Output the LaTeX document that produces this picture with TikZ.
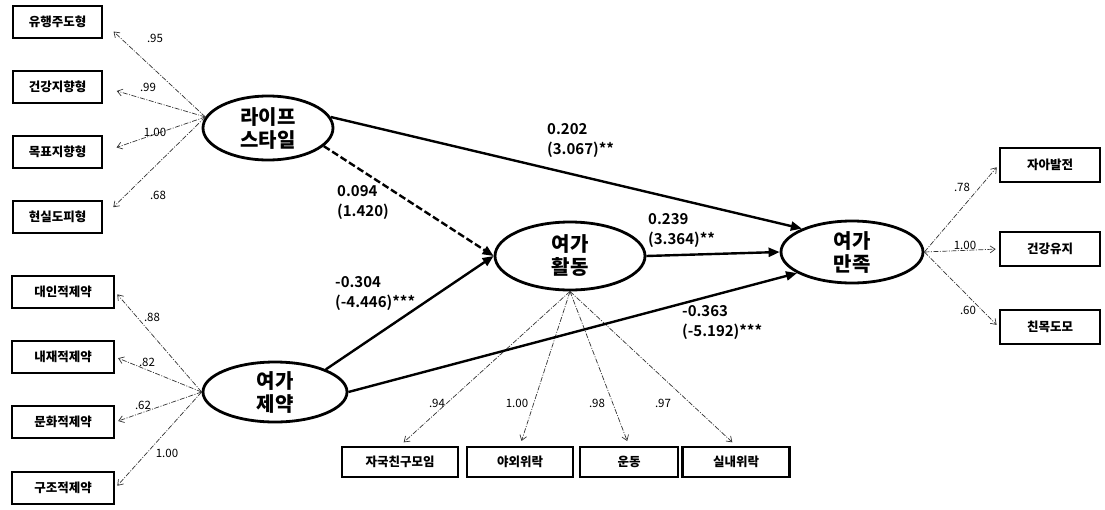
\documentclass[tikz,border=0pt]{standalone}
\usepackage{fontspec}
\setmainfont{Noto Sans CJK KR}[BoldFont={Noto Sans CJK KR Bold}]
\newfontfamily\krblack{Noto Sans CJK KR Black}
\usetikzlibrary{shapes.geometric, arrows.meta}
\tikzset{
  ind/.style={draw, line width=2.6pt, font=\krblack\fontsize{12.5}{14}\selectfont, minimum height=32pt, inner sep=0pt},
  lat/.style={ellipse, draw, line width=2.8pt, inner sep=0pt, align=center, font=\krblack\fontsize{20}{23}\selectfont},
  sp/.style={line width=2.4pt, -{Triangle[length=11pt,width=9pt]}},
  spd/.style={sp, dash pattern=on 7pt off 3pt},
  load/.style={line width=0.7pt, black!80, dash pattern=on 5pt off 1.5pt on 1pt off 1.5pt, -{Straight Barb[length=5pt,width=7pt]}},
  coef/.style={font=\bfseries\fontsize{15}{20}\selectfont, align=left, anchor=north west, inner sep=0pt},
  ld/.style={font=\fontsize{11.5}{12}\selectfont, inner sep=0pt}
}
\begin{document}
\begin{tikzpicture}[x=1pt,y=-1pt]
\fill[white] (0,0) rectangle (1105,509);
\useasboundingbox (0,0) rectangle (1105,509);

% latent variables
\node[lat, minimum width=130pt, minimum height=64pt] (LS) at (268,128) {라이프\\스타일};
\node[lat, minimum width=144pt, minimum height=60pt] (LC) at (275,392) {여가\\제약};
\node[lat, minimum width=150pt, minimum height=68pt] (LA) at (570,256) {여가\\활동};
\node[lat, minimum width=142pt, minimum height=62pt] (LT) at (852,252) {여가\\만족};

% indicators: lifestyle
\node[ind, minimum width=89pt] (a1) at (57.5,22) {유행주도형};
\node[ind, minimum width=89pt] (a2) at (57.5,87) {건강지향형};
\node[ind, minimum width=89pt] (a3) at (57.5,152) {목표지향형};
\node[ind, minimum width=89pt] (a4) at (57.5,217) {현실도피형};
% indicators: constraint
\node[ind, minimum width=102pt] (b1) at (63,292) {대인적제약};
\node[ind, minimum width=102pt] (b2) at (63,357) {내재적제약};
\node[ind, minimum width=102pt] (b3) at (63,422) {문화적제약};
\node[ind, minimum width=102pt] (b4) at (63,488) {구조적제약};
% indicators: activity
\node[ind, minimum width=116pt, minimum height=30pt] (c1) at (400,462) {자국친구모임};
\node[ind, minimum width=106pt, minimum height=30pt] (c2) at (520,462) {야외위락};
\node[ind, minimum width=98pt, minimum height=30pt] (c3) at (629,462) {운동};
\node[ind, minimum width=107pt, minimum height=30pt] (c4) at (736,462) {실내위락};
% indicators: satisfaction
\node[ind, minimum width=100pt, minimum height=34pt] (d1) at (1050,165) {자아발전};
\node[ind, minimum width=100pt, minimum height=34pt] (d2) at (1050,249) {건강유지};
\node[ind, minimum width=100pt, minimum height=34pt] (d3) at (1050,327) {친목도모};

% loadings
\foreach \t in {a1,a2,a3,a4} \draw[load, shorten >=14pt] (LS.170) -- (\t.east);
\foreach \t in {b1,b2,b3,b4} \draw[load, shorten >=3pt] (LC.west) -- (\t.east);
\foreach \t in {c1,c2,c3,c4} \draw[load, shorten >=5pt] (LA.south) -- (\t.north);
\foreach \t in {d1,d2,d3} \draw[load, shorten >=3pt] (LT.east) -- (\t.west);

\node[ld] (la1) at (155,38) {.95};
\node[ld] (la2) at (148,87) {.99};
\node[ld] (la3) at (155,132) {1.00};
\node[ld] (la4) at (158,195) {.68};
\node[ld] (lb1) at (152,317) {.88};
\node[ld] (lb2) at (147,362) {.82};
\node[ld] (lb3) at (143,405) {.62};
\node[ld] (lb4) at (167,453) {1.00};
\node[ld] (lc1) at (437,403) {.94};
\node[ld] (lc2) at (517,403) {1.00};
\node[ld] (lc3) at (597,403) {.98};
\node[ld] (lc4) at (663,403) {.97};
\node[ld] (ld1) at (962,187) {.78};
\node[ld] (ld2) at (965,245) {1.00};
\node[ld] (ld3) at (968,310) {.60};

% structural paths
\draw[sp] (LS.10) -- (LT.155);
\draw[spd] (LS.-18) -- (LA.west);
\draw[sp] (LC.24) -- (LA.west);
\draw[sp] (LA.east) -- (LT.west);
\draw[sp] (LC.east) -- (LT.201);

\node[coef] (p1) at (547,123) {0.202\\(3.067)**};
\node[coef] (p2) at (337,185) {0.094\\(1.420)};
\node[coef] (p3) at (335,276) {-0.304\\(-4.446)***};
\node[coef] (p4) at (648,213) {0.239\\(3.364)**};
\node[coef] (p5) at (682,305) {-0.363\\(-5.192)***};
\end{tikzpicture}
\end{document}
